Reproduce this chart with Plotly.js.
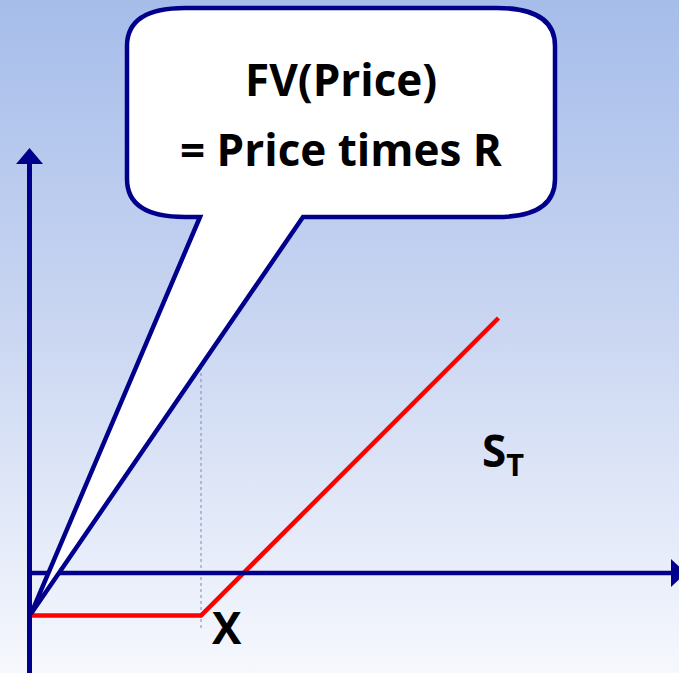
<!DOCTYPE html>
<html>
<head>
<meta charset="utf-8">
<script src="https://cdn.plot.ly/plotly-3.0.1.min.js"></script>
<style>
html,body{margin:0;padding:0;}
#chart{width:679px;height:673px;background:linear-gradient(to bottom,#a6bdea 0%,#cbd7f2 50%,#f6f8fd 100%);}
</style>
</head>
<body>
<div id="chart"></div>
<script>
// ---- data ----
const stockPrice = [0, 100, 275];      // S_T values along the payoff line
const profit = [-25, -25, 150];        // call payoff minus FV(price)
const strike = 100;                    // X
const calloutLines = ["FV(Price)", "= Price times R"];
const strikeLabel = "X";
const axisLabel = "S<sub>T</sub>";

// ---- layout geometry (pixel helpers for decoration) ----
const W = 679, H = 673, OX = 31, OY = 573, S = 1.7;
const xr = [-OX / S, (W - OX) / S];
const yr = [(OY - H) / S, OY / S];
const px = p => (p - OX) / S;
const py = p => (OY - p) / S;
const P = (a, b) => px(a).toFixed(3) + ',' + py(b).toFixed(3);

const navy = '#00008c';
const font = 'Open Sans, Noto Sans, sans-serif';

// callout bubble with tail to the origin
const tipX = 0, tipY = -24;
const tip = tipX.toFixed(3) + ',' + tipY.toFixed(3);
const L = 127, R = 555, T = 8, B = 217, rx = 58, ry = 38;
const bubble = 'M' + P(200, B) + ' L' + tip + ' L' + P(303, B) +
  ' L' + P(R - rx, B) + ' Q' + P(R, B) + ' ' + P(R, B - ry) +
  ' L' + P(R, T + ry) + ' Q' + P(R, T) + ' ' + P(R - rx, T) +
  ' L' + P(L + rx, T) + ' Q' + P(L, T) + ' ' + P(L, T + ry) +
  ' L' + P(L, B - ry) + ' Q' + P(L, B) + ' ' + P(L + rx, B) + ' Z';

const upArrow = 'M' + P(29.5, 148) + ' L' + P(43, 164) + ' L' + P(16, 164) + ' Z';
const rightArrow = 'M' + P(686, 573) + ' L' + P(671, 559) + ' L' + P(671, 587) + ' Z';

// y where the tail's right edge crosses x = strike
const tailTopX = px(303), tailTopY = py(B);
const crossY = tipY + (tailTopY - tipY) * (strike - tipX) / (tailTopX - tipX);

const shapes = [
  {type: 'line', xref: 'x', yref: 'y', x0: strike, x1: strike, y0: py(628), y1: crossY,
   line: {color: '#7f86c0', width: 1, dash: 'dot'}, layer: 'below'},
  {type: 'line', xref: 'x', yref: 'y', x0: px(29.5), x1: px(29.5), y0: py(673), y1: py(160),
   line: {color: navy, width: 5}},
  {type: 'line', xref: 'x', yref: 'y', x0: px(29.5), x1: px(674), y0: 0, y1: 0,
   line: {color: navy, width: 4.5}},
  {type: 'path', xref: 'x', yref: 'y', path: upArrow, fillcolor: navy, line: {width: 0}},
  {type: 'path', xref: 'x', yref: 'y', path: rightArrow, fillcolor: navy, line: {width: 0}},
  {type: 'path', xref: 'x', yref: 'y', path: bubble, fillcolor: '#ffffff', line: {color: navy, width: 4.5}}
];

const fs = 44;
const annotations = [
  {x: px(341), y: py(79), text: '<b>' + calloutLines[0] + '</b>'},
  {x: px(341), y: py(149), text: '<b>' + calloutLines[1] + '</b>'},
  {x: strike + px(227) - px(201), y: py(627), text: '<b>' + strikeLabel + '</b>'},
  {x: px(503), y: py(452), text: '<b>' + axisLabel + '</b>'}
].map(a => Object.assign(a, {xref: 'x', yref: 'y', showarrow: false,
  font: {family: font, size: fs, color: '#000'}, xanchor: 'center', yanchor: 'middle'}));

const traces = [{
  x: stockPrice, y: profit, type: 'scatter', mode: 'lines',
  line: {color: '#ff0000', width: 4.5}, hoverinfo: 'skip'
}];

const layout = {
  width: W, height: H,
  margin: {l: 0, r: 0, t: 0, b: 0, pad: 0},
  paper_bgcolor: 'rgba(0,0,0,0)', plot_bgcolor: 'rgba(0,0,0,0)',
  showlegend: false,
  xaxis: {range: xr, visible: false, fixedrange: true},
  yaxis: {range: yr, visible: false, fixedrange: true},
  shapes: shapes, annotations: annotations
};

Plotly.newPlot('chart', traces, layout, {displayModeBar: false, staticPlot: true});
</script>
</body>
</html>
